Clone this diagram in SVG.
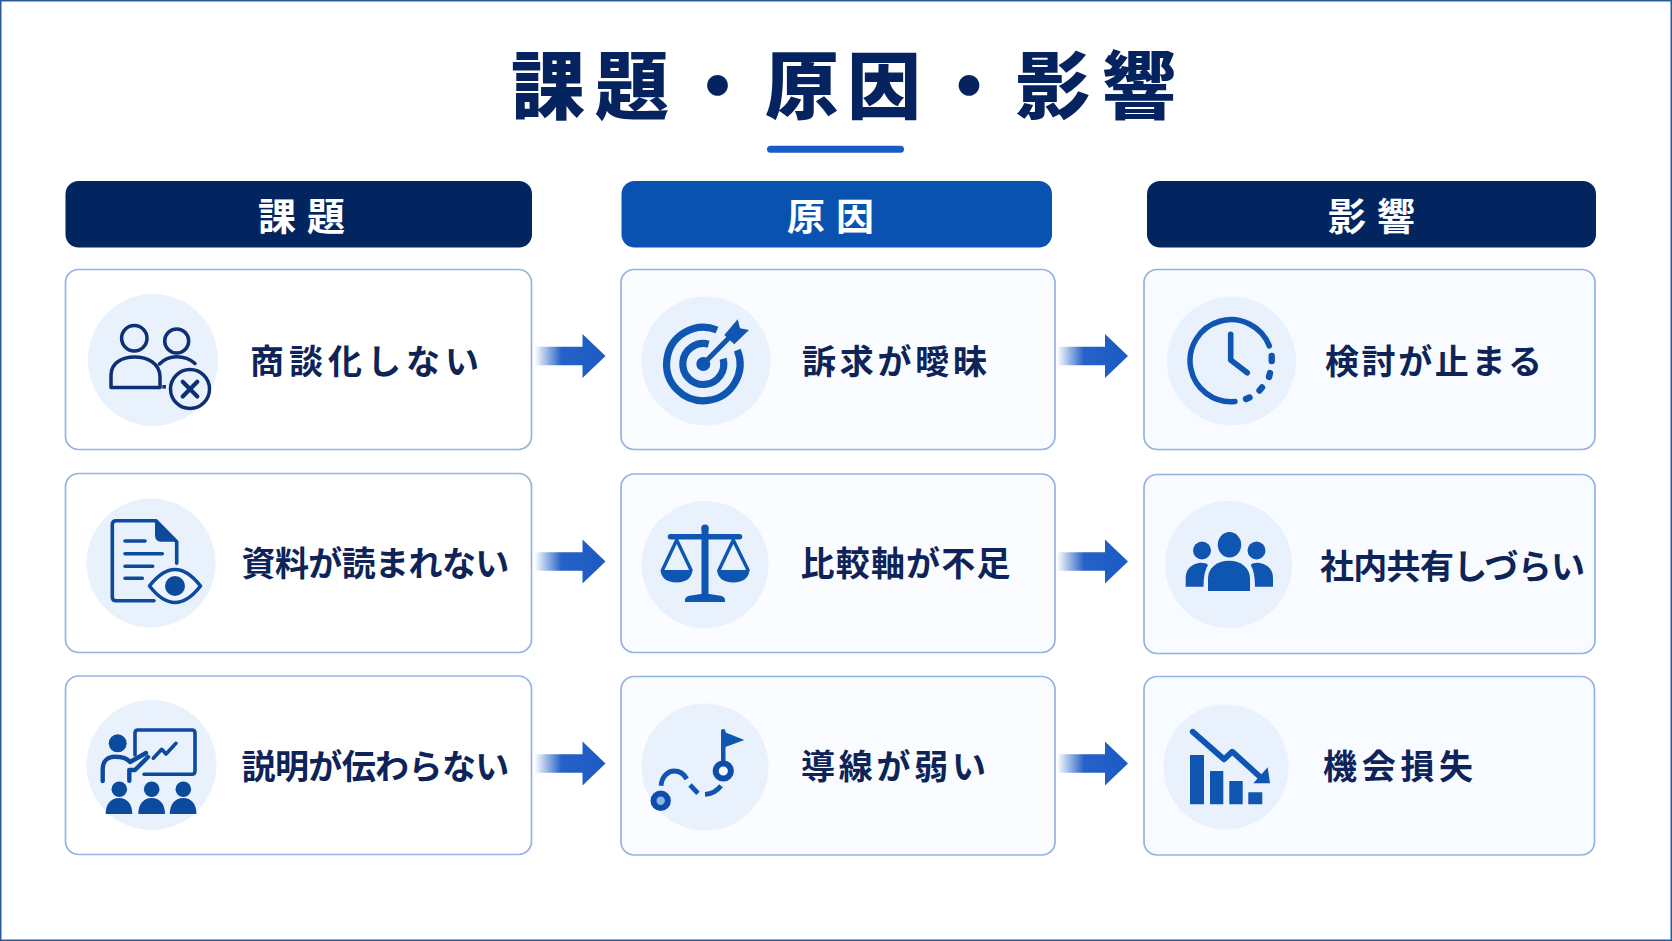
<svg xmlns="http://www.w3.org/2000/svg" width="1672" height="941" viewBox="0 0 1672 941">
<style>
text{font-family:"Noto Sans CJK JP","Noto Sans",sans-serif;font-weight:700}
.title{font-size:74px;fill:#05245f;font-weight:900}
.htext{font-size:38px;fill:#fff}
.label{font-size:34px;fill:#0e2459}
.card{stroke:#95b3e2;stroke-width:1.7}
.c1{fill:#fff}.c2{fill:#fafcff}.c3{fill:#f8fbff}
.disc{fill:#e9f2fc}
.navy{stroke:#0d2f73;fill:none;stroke-width:3.5;stroke-linecap:round;stroke-linejoin:round}
.navyf{fill:#0d2f73}
.blue{stroke:#0c4a9e;fill:none;stroke-width:3.6;stroke-linecap:round;stroke-linejoin:round}
.bluef{fill:#0c4a9e}
.sky{stroke:#0f56b3;fill:none;stroke-width:5.5;stroke-linecap:round;stroke-linejoin:round}
.skyf{fill:#0f56b3}
</style>
<defs>
<linearGradient id="fade" x1="0" x2="1" y1="0" y2="0">
<stop offset="0" stop-color="#1a5ac4" stop-opacity="0"/>
<stop offset="0.38" stop-color="#1a5ac4" stop-opacity="0.95"/>
<stop offset="1" stop-color="#1a5ac4"/>
</linearGradient>
<path id="arrow" d="M0 -9.2H48V-22L71 0L48 22V9.2H0Z" fill="url(#fade)"/>
</defs>
<rect width="1672" height="941" fill="#fff"/>
<rect x="0.75" y="0.75" width="1670.5" height="939.5" fill="none" stroke="#2b5a9c" stroke-width="1.5"/>

<g id="title">
<text class="title" x="511 595 680.5 765 847 932 1016 1102" y="113">課題・原因・影響</text>
<rect x="767" y="145.7" width="137" height="7" rx="3.5" fill="#1a5cc6"/>
</g>

<g id="header-kadai"><rect x="65.5" y="181" width="466.5" height="66.5" rx="13" fill="#03255f"/><text class="htext" x="258 307" y="230">課題</text></g>
<g id="header-genin"><rect x="621.5" y="181" width="430.5" height="66.5" rx="13" fill="#0a52b0"/><text class="htext" x="787 836" y="230">原因</text></g>
<g id="header-eikyo"><rect x="1147" y="181" width="449" height="66.5" rx="13" fill="#03255f"/><text class="htext" x="1328 1377" y="230">影響</text></g>

<g id="connectors">
<use href="#arrow" transform="translate(534.5 356)"/>
<use href="#arrow" transform="translate(1057 356)"/>
<use href="#arrow" transform="translate(534.5 561.5)"/>
<use href="#arrow" transform="translate(1057 561.5)"/>
<use href="#arrow" transform="translate(534.5 763.5)"/>
<use href="#arrow" transform="translate(1057 763.5)"/>
</g>

<g id="node-r1c1">
<rect class="card c1" x="65.5" y="269.5" width="466" height="180" rx="13"/>
<ellipse class="disc" cx="153" cy="360" rx="65" ry="66"/>
<circle class="navy" cx="134.3" cy="338.3" r="12.7"/>
<path class="navy" d="M111 387.5V375C111 363 122 357 134.5 357C147 357 160 363 160 377V387.5Z"/>
<circle class="navy" cx="176.7" cy="341" r="12"/>
<path class="navy" d="M159.5 364C165 358 170 356.7 176.7 356.7C184 356.7 190 359 195 363.5"/>
<rect class="navyf" x="162.3" y="385" width="3.6" height="3.6"/>
<circle class="navy" cx="190" cy="389" r="19.5"/>
<path class="navy" style="stroke-width:4.2" d="M182.7 381.7L197.3 396.5M197.3 381.7L182.7 396.5"/>
<text class="label" x="250" y="374" letter-spacing="5">商談化しない</text>
</g>

<g id="node-r1c2">
<rect class="card c2" x="621" y="269.5" width="434" height="180" rx="13"/>
<circle class="disc" cx="706" cy="361" r="64.5"/>
<path class="sky" style="stroke-width:7.2;stroke-linecap:butt" d="M717 330A36.7 36.7 0 1 0 737.3 350.2"/>
<path class="sky" style="stroke-width:7.2;stroke-linecap:butt" d="M708.6 344.2A20.5 20.5 0 1 0 723.1 358.7"/>
<circle class="skyf" cx="703.3" cy="364" r="7"/>
<path class="sky" style="stroke-width:5" d="M703.3 364L731.7 335"/>
<path class="skyf" d="M724.3 335L737.7 319.3L740 328.3L749 330L734.3 344.3Z"/>
<text class="label" x="802" y="374" letter-spacing="3.75">訴求が曖昧</text>
</g>

<g id="node-r1c3">
<rect class="card c3" x="1144" y="269.5" width="451" height="180" rx="13"/>
<circle class="disc" cx="1231.5" cy="361" r="64.5"/>
<path class="sky" d="M1269.3 346A41 41 0 1 0 1235 401.5"/>
<path class="sky" style="stroke-width:6.4" d="M1271.7 356V361M1270 373L1269 377M1262 387.5L1259.5 390.5M1249.5 397.5L1246 399"/>
<path class="sky" style="stroke-width:5.6" d="M1230.7 334.3V360L1247.3 372.7"/>
<text class="label" x="1325" y="374" letter-spacing="2.6">検討が止まる</text>
</g>

<g id="node-r2c1">
<rect class="card c1" x="65.5" y="473.5" width="466" height="179" rx="13"/>
<circle class="disc" cx="151" cy="563" r="64.5"/>
<path class="blue" d="M154 600.7H116Q112.3 600.7 112.3 597V524.5Q112.3 520.7 116 520.7H156L176.7 541.7V563.3"/>
<path class="bluef" d="M155 520.7L176.7 541.7H161Q155 541.7 155 535Z"/>
<path class="blue" d="M125 541H145M125 553.7H162.3M125 566.3H152.7M125 578.3H142.3"/>
<path class="blue" style="fill:#eef4fc" d="M149.5 586Q175 553 200.5 586Q175 619 149.5 586Z"/>
<circle class="bluef" cx="175" cy="586" r="10"/>
<text class="label" x="241.5" y="576" letter-spacing="-0.6">資料が読まれない</text>
</g>

<g id="node-r2c2">
<rect class="card c2" x="621" y="474" width="434" height="178.5" rx="13"/>
<circle class="disc" cx="705" cy="564.5" r="63.5"/>
<circle class="skyf" cx="705" cy="528.3" r="3.8"/>
<path class="sky" d="M670.5 536.7H739.5"/>
<rect class="skyf" x="701.5" y="530" width="7" height="68"/>
<path class="skyf" d="M685 602V600Q685 596 691 595.5L701 594H709L719 595.5Q725 596 725 600V602Z"/>
<path class="sky" style="stroke-width:3.4" d="M662.5 570L676.7 540L691 570M719 570L733.3 540L748 570"/>
<path class="skyf" d="M660.5 570H692.5Q691.5 582 676.5 582.5Q661.5 582 660.5 570ZM717 570H749.5Q748.5 582 733.3 582.5Q718 582 717 570Z"/>
<text class="label" x="800.5" y="576" letter-spacing="1.2">比較軸が不足</text>
</g>

<g id="node-r2c3">
<rect class="card c3" x="1144" y="474.5" width="451" height="179" rx="13"/>
<circle class="disc" cx="1228.6" cy="564.5" r="63.5"/>
<ellipse class="skyf" cx="1229.5" cy="544.7" rx="11.7" ry="12.7"/>
<circle class="skyf" cx="1202" cy="550.5" r="9"/>
<circle class="skyf" cx="1256.5" cy="550.5" r="9"/>
<path class="skyf" d="M1208 591V578C1208 568 1217 560.7 1229 560.7C1241 560.7 1250 568 1250 578V591Z"/>
<path class="skyf" d="M1185.7 586.7V578Q1186 565 1200 562.7Q1206 562.5 1208 565Q1203.5 572 1203.5 586.7Z"/>
<path class="skyf" d="M1273 586.7V578Q1272.7 565 1258.7 562.7Q1252.7 562.5 1250.7 565Q1255 572 1255 586.7Z"/>
<text class="label" x="1320" y="578.5" letter-spacing="-0.7">社内共有しづらい</text>
</g>

<g id="node-r3c1">
<rect class="card c1" x="65.5" y="676" width="466" height="178.5" rx="13"/>
<circle class="disc" cx="151.5" cy="765" r="65"/>
<circle class="bluef" cx="117.7" cy="743.3" r="9"/>
<path class="blue" style="stroke-width:4.4" d="M102.7 781V769C102.7 761 108 756.7 115 756.7C122 756.7 127 758 130 762L146 753"/>
<path class="blue" style="stroke-width:4.4" d="M129.3 780.7V770H135L148 757"/>
<path class="blue" d="M144 774.3H192Q195 774.3 195 771V733Q195 730 192 730H138Q135 730 135 733V755"/>
<path class="blue" d="M153.3 758.3L161.7 749.3L166 754L176 743.3"/>
<circle class="bluef" cx="119.3" cy="789.3" r="7.8"/>
<circle class="bluef" cx="151.7" cy="789.3" r="7.8"/>
<circle class="bluef" cx="183.3" cy="789.3" r="7.8"/>
<path class="bluef" d="M105.7 814C105.7 804 111 798 119 798C127 798 132.3 804 132.3 814ZM138.3 814C138.3 804 143.7 798 151.7 798C159.7 798 165 804 165 814ZM169.8 814C169.8 804 175.3 798 183.3 798C191.3 798 196.5 804 196.5 814Z"/>
<text class="label" x="241.5" y="778.5" letter-spacing="-0.6">説明が伝わらない</text>
</g>

<g id="node-r3c2">
<rect class="card c2" x="621" y="676.5" width="434" height="178.5" rx="13"/>
<circle class="disc" cx="705" cy="767" r="63.5"/>
<circle cx="660.7" cy="800.7" r="7.2" fill="#8fb3e8" stroke="#0e4dab" stroke-width="6"/>
<path class="sky" style="stroke-width:4.8;stroke-linecap:butt" d="M661 785.7C662 776 668 771 674.3 771C680 771 684 774 686.7 779M690 785L698 793.3M705 794.3C712 794 717 791 721 785.7"/>
<path class="skyf" d="M721 731Q721 729 723 729Q725.5 729 725.5 731V762H721Z"/>
<path class="skyf" d="M722 731L744.3 740L722 748.3Z"/>
<circle cx="723.3" cy="771" r="7.6" fill="#f3f8fe" stroke="#0e4dab" stroke-width="6"/>
<text class="label" x="801" y="778.5" letter-spacing="3.75">導線が弱い</text>
</g>

<g id="node-r3c3">
<rect class="card c3" x="1144" y="676.5" width="450.5" height="178.5" rx="13"/>
<circle class="disc" cx="1226" cy="767" r="62.5"/>
<path class="skyf" d="M1190 755H1204V804.3H1190ZM1210 771H1223.3V804.3H1210ZM1229.3 781H1242.7V804.3H1229.3ZM1248.3 792.3H1262.3V804.3H1248.3Z"/>
<path class="sky" style="stroke-width:5.8" d="M1192.7 731.7L1224 759.3L1232.3 751.7L1261.7 778.3"/>
<path class="skyf" d="M1267.7 767.3L1270 783.3H1253.3Z"/>
<text class="label" x="1323" y="778.5" letter-spacing="4.7">機会損失</text>
</g>
</svg>
